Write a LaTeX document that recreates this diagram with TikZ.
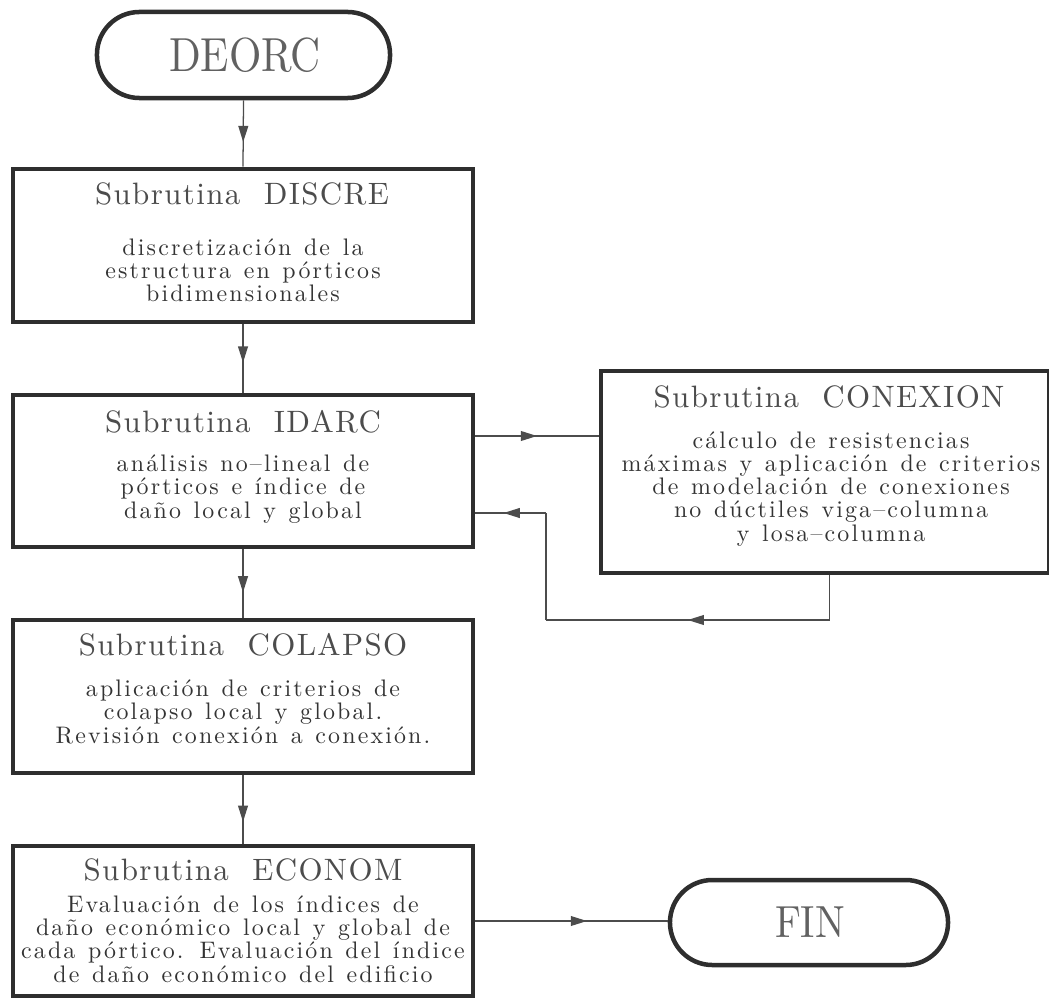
\documentclass[tikz,border=0pt]{standalone}
\usepackage{fontspec}
\usepackage{graphicx}
\setmainfont{lmroman10-regular.otf}
\newfontfamily\ttlfont[LetterSpace=4.5,WordSpace=2]{lmroman10-regular.otf}
\newfontfamily\bdyfont[LetterSpace=9,WordSpace=1.25]{lmroman10-regular.otf}
\usetikzlibrary{arrows.meta,decorations.markings,calc}
\tikzset{
  box/.style={draw=black!82, line width=3.3pt, rectangle, inner sep=0pt},
  pill/.style={draw=black!82, line width=3.2pt, rectangle, rounded corners=1.06cm, inner sep=0pt},
  conn/.style={draw=black!70, line width=0.9pt},
  midarr/.style={postaction={decorate}, decoration={markings,
      mark=at position #1 with {\arrow{Triangle[length=11.5pt,width=7pt]}}}},
  ttl/.style={anchor=base, inner sep=0pt, text=black!70, font=\ttlfont\fontsize{22}{24}\selectfont},
  bdy/.style={anchor=base, inner sep=0pt, align=center, text=black!80, font={\bdyfont\fontsize{17}{16.5}\selectfont\lineskiplimit=-6pt}},
  big/.style={inner sep=0pt, text=black!62, font=\fontsize{34}{36}\selectfont},
}
\begin{document}
\begin{tikzpicture}[x=0.025cm,y=-0.025cm]
\useasboundingbox (0,0) rectangle (1049,997);
% terminals
\node[pill, minimum width=7.325cm, minimum height=2.15cm] (deorc) at (243.5,55) {};
\node[big] (deorct) at (245,55) {\scalebox{0.87}[1]{DEORC}};
\node[pill, minimum width=6.95cm, minimum height=2.125cm] (fin) at (809,922.5) {};
\node[big, font=\fontsize{32}{34}\selectfont] (fint) at (810,922) {\scalebox{0.88}[1]{FIN}};
% boxes
\node[box, minimum width=11.5cm, minimum height=3.825cm] (discre) at (243,245.5) {};
\node[box, minimum width=11.5cm, minimum height=3.8cm] (idarc) at (243,471) {};
\node[box, minimum width=11.5cm, minimum height=3.825cm] (colapso) at (243,696.5) {};
\node[box, minimum width=11.5cm, minimum height=3.75cm] (econom) at (243,921) {};
\node[box, minimum width=11.2cm, minimum height=5.05cm] (conexion) at (825,472) {};
% texts (body nodes: base = baseline of the last line)
\node[ttl] (discre-t) at (242,205) {Subrutina DISCRE};
\node[bdy] (discre-b) at (243,302) {discretización de la\\estructura en pórticos\\bidimensionales};
\node[ttl] (idarc-t) at (243,432) {Subrutina IDARC};
\node[bdy] (idarc-b) at (243,518) {análisis no–lineal de\\pórticos e índice de\\daño local y global};
\node[ttl] (colapso-t) at (243,655) {Subrutina COLAPSO};
\node[bdy] (colapso-b) at (243,743) {aplicación de criterios de\\colapso local y global.\\Revisión conexión a conexión.};
\node[ttl] (econom-t) at (243,880) {Subrutina ECONOM};
\node[bdy] (econom-b) at (243,982) {Evaluación de los índices de\\daño económico local y global de\\cada pórtico. Evaluación del índice\\de daño económico del edificio};
\node[ttl] (conexion-t) at (829,407) {Subrutina CONEXION};
\node[bdy] (conexion-b) at (831,541) {cálculo de resistencias\\máximas y aplicación de criterios\\de modelación de conexiones\\no dúctiles viga–columna\\y losa–columna};
% connectors
\draw[conn, midarr=0.63] (deorc.south) -- (discre.north);
\draw[conn, midarr=0.56] (discre.south) -- (idarc.north);
\draw[conn, midarr=0.63] (idarc.south) -- (colapso.north);
\draw[conn, midarr=0.68] (colapso.south) -- (econom.north);
\coordinate (a1) at ($(idarc.east)+(0,-35)$);
\draw[conn, midarr=0.5] (a1) -- (a1 -| conexion.west);
\coordinate (r0) at ($(conexion.south)+(4.5,0)$);
\coordinate (r2) at (546,620);
\coordinate (r1) at (r0 |- r2);
\coordinate (r3) at (546,513);
\draw[conn] (r0) -- (r1);
\draw[conn, midarr=0.5] (r1) -- (r2);
\draw[conn] (r2) -- (r3);
\draw[conn, midarr=0.6] (r3) -- (r3 -| idarc.east);
\draw[conn, midarr=0.58] (econom.east) -- (econom.east -| fin.west);
\end{tikzpicture}
\end{document}
